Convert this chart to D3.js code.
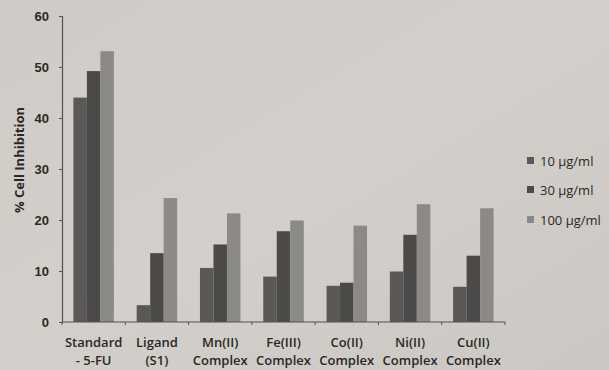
<!DOCTYPE html>
<html><head><meta charset="utf-8">
<script src="https://cdn.jsdelivr.net/npm/d3@7"></script>
<style>
html,body{margin:0;padding:0;background:#d0cdc8;}
svg{display:block;}
text{font-family:"Open Sans","Liberation Sans",sans-serif;fill:#2a2826;}
</style></head><body>
<svg id="c" width="609" height="370"></svg>
<script>
const categories = ["Standard\n- 5-FU","Ligand\n(S1)","Mn(II)\nComplex","Fe(III)\nComplex","Co(II)\nComplex","Ni(II)\nComplex","Cu(II)\nComplex"];
const seriesNames = ["10 \u00b5g/ml","30 \u00b5g/ml","100 \u00b5g/ml"];
const s10 = [44.0, 3.3, 10.6, 8.9, 7.1, 9.9, 6.9];
const s30 = [49.2, 13.5, 15.2, 17.8, 7.7, 17.1, 13.0];
const s100 = [53.1, 24.3, 21.3, 19.9, 18.9, 23.1, 22.3];
const yTicks = [0,10,20,30,40,50,60];
const colors = ["#5b5957","#4c4a48","#8c8a87"];
const series = [s10, s30, s100];

const svg = d3.select("#c");
const defs = svg.append("defs");
const g0 = defs.append("linearGradient").attr("id","bg").attr("x1","0").attr("y1","0").attr("x2","1").attr("y2","1");
g0.append("stop").attr("offset","0").attr("stop-color","#cfccc7");
g0.append("stop").attr("offset","0.5").attr("stop-color","#d3d0cb");
g0.append("stop").attr("offset","1").attr("stop-color","#cbc8c3");
svg.append("rect").attr("width",609).attr("height",370).attr("fill","url(#bg)");

const x0 = d3.scaleBand().domain(d3.range(categories.length)).range([62,505]).paddingInner(0.36).paddingOuter(0.18);
const x1 = d3.scaleBand().domain(d3.range(3)).range([0,x0.bandwidth()]);
const y = d3.scaleLinear().domain([0,60]).range([322,16]);

series.forEach((s,si)=>{
  svg.append("g").selectAll("rect").data(s).join("rect")
    .attr("x",(d,i)=>x0(i)+x1(si))
    .attr("y",d=>y(d))
    .attr("width",x1.bandwidth())
    .attr("height",d=>y(0)-y(d))
    .attr("fill",colors[si]);
});

const ya = svg.append("g").attr("transform","translate(62,0)")
  .call(d3.axisLeft(y).tickValues(yTicks).tickSize(3).tickPadding(10));
ya.select(".domain").attr("stroke","#55524f").attr("stroke-width",1.2);
ya.selectAll(".tick line").attr("stroke","#55524f");
ya.selectAll("text").attr("font-size",13).attr("font-weight",700).attr("fill","#2a2826")
  .style("font-family","'Liberation Sans Narrow','Liberation Sans',sans-serif");

const xa = svg.append("g");
xa.append("line").attr("x1",62).attr("x2",505).attr("y1",y(0)).attr("y2",y(0)).attr("stroke","#55524f").attr("stroke-width",1.2);
xa.selectAll("line.t").data(d3.range(categories.length+1)).join("line").attr("class","t")
  .attr("x1",i=>62+i*(505-62)/categories.length).attr("x2",i=>62+i*(505-62)/categories.length)
  .attr("y1",y(0)).attr("y2",y(0)+3).attr("stroke","#55524f");

categories.forEach((c,i)=>{
  const cx = 62+(i+0.5)*(505-62)/categories.length;
  c.split("\n").forEach((l,li)=>{
    svg.append("text").attr("x",cx).attr("y",347+li*18).attr("text-anchor","middle")
      .attr("font-size",13).attr("font-weight",600).text(l);
  });
});

svg.append("text").attr("transform","translate(24,160) rotate(-90)").attr("text-anchor","middle")
  .attr("font-size",13).attr("font-weight",700).text("% Cell Inhibition");

const leg = svg.append("g");
const legY = [161,190,220];
seriesNames.forEach((n,i)=>{
  leg.append("rect").attr("x",527).attr("y",legY[i]-4).attr("width",7).attr("height",7).attr("fill",colors[i]);
  leg.append("text").attr("x",540).attr("y",legY[i]+5).attr("font-size",13).attr("font-weight",500).text(n);
});
</script>
</body></html>
